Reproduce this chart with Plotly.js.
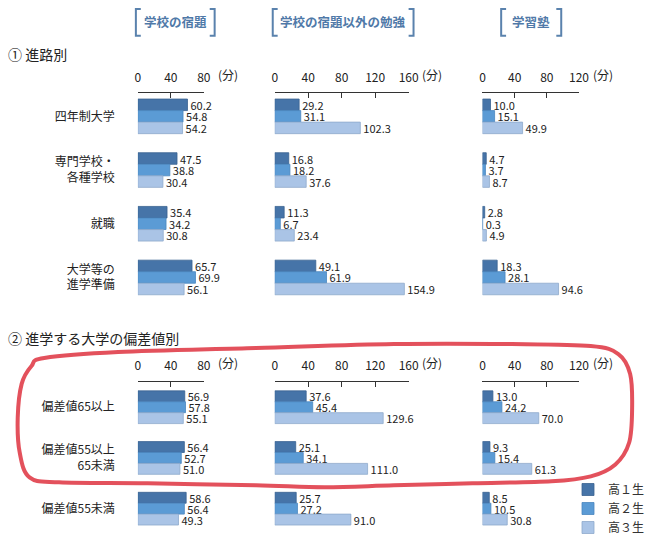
<!DOCTYPE html>
<html>
<head>
<meta charset="utf-8">
<script src="https://cdn.plot.ly/plotly-3.0.1.min.js"></script>
<style>
  html, body { margin: 0; padding: 0; background: #fff; overflow: hidden; }
  #chart { width: 650px; height: 542px; overflow: hidden; }
</style>
</head>
<body>
<div id="chart"></div>
<script>
// categories
const courseCats = ["四年制大学", "専門学校・<br>各種学校", "就職", "大学等の<br>進学準備"];
const devCats = ["偏差値65以上", "偏差値55以上<br>65未満", "偏差値55未満"];
const grades = ["高１生", "高２生", "高３生"];
const panelTitles = ["学校の宿題", "学校の宿題以外の勉強", "学習塾"];
const panelMax = [80, 160, 120];
const panelTicks = [[0, 40, 80], [0, 40, 80, 120, 160], [0, 40, 80, 120]];

// ① 進路別 (minutes)
const courseHomework = [[60.2, 47.5, 35.4, 65.7], [54.8, 38.8, 34.2, 69.9], [54.2, 30.4, 30.8, 56.1]];
const courseOther = [[29.2, 16.8, 11.3, 49.1], [31.1, 18.2, 6.7, 61.9], [102.3, 37.6, 23.4, 154.9]];
const courseCram = [[10.0, 4.7, 2.8, 18.3], [15.1, 3.7, 0.3, 28.1], [49.9, 8.7, 4.9, 94.6]];

// ② 進学する大学の偏差値別 (minutes)
const devHomework = [[56.9, 56.4, 58.6], [57.8, 52.7, 56.4], [55.1, 51.0, 49.3]];
const devOther = [[37.6, 25.1, 25.7], [45.4, 34.1, 27.2], [129.6, 111.0, 91.0]];
const devCram = [[13.0, 9.3, 8.5], [24.2, 15.4, 10.5], [70.0, 61.3, 30.8]];

const W = 650, H = 542;
const px = (x) => x / W;
const py = (y) => 1 - y / H;

const FONT = "Noto Sans CJK JP, Noto Sans, sans-serif";
const colors = ["#4674a8", "#5b9bd5", "#aac4e6"];
const edges = ["#3a6290", "#4a86bf", "#8ea9cc"];
const titleBlue = "#4f79a8";

// panel geometry (pixels)
const colX = [[140, 207], [279, 415], [490, 588]];
const rows = [
  { cats: courseCats, data: [courseHomework, courseOther, courseCram], top: 90, bottom: 306, line: 93, yaxis: "y" },
  { cats: devCats, data: [devHomework, devOther, devCram], top: 384, bottom: 537, line: 383, yaxis: "y2" },
];

const traces = [];
const layout = {
  width: W,
  height: H,
  autosize: false,
  margin: { l: 0, r: 0, t: 0, b: 0 },
  paper_bgcolor: "#fff",
  plot_bgcolor: "rgba(0,0,0,0)",
  font: { family: FONT, size: 12, color: "#222" },
  barmode: "group",
  bargap: 0.355,
  bargroupgap: 0,
  showlegend: true,
  legend: {
    x: px(577),
    y: py(478),
    xanchor: "left",
    yanchor: "top",
    traceorder: "normal",
    font: { size: 12, color: "#333" },
    itemwidth: 30,
    bgcolor: "rgba(255,255,255,0)",
  },
  annotations: [],
  shapes: [],
};

rows.forEach((row, r) => {
  const yName = r === 0 ? "yaxis" : "yaxis2";
  const firstX = r === 0 ? "x" : "x4";
  layout[yName] = {
    domain: [py(row.bottom), py(row.top)],
    anchor: firstX,
    type: "category",
    range: [row.cats.length - 0.5, -0.5],
    showline: false,
    showgrid: false,
    zeroline: false,
    ticks: "",
    ticklabelstandoff: 22,
    tickfont: { size: 12, color: "#222" },
    fixedrange: true,
  };

  colX.forEach((cx, c) => {
    const idx = r * 3 + c + 1;
    const xKey = idx === 1 ? "xaxis" : "xaxis" + idx;
    const xRef = idx === 1 ? "x" : "x" + idx;
    layout[xKey] = {
      domain: [px(cx[0]), px(cx[1])],
      anchor: "free",
      position: py(row.line),
      side: "top",
      range: [0, panelMax[c]],
      tickvals: panelTicks[c],
      ticks: "inside",
      ticklen: 5,
      tickcolor: "#333",
      showline: true,
      linecolor: "#333",
      linewidth: 1,
      showgrid: false,
      zeroline: false,
      ticklabelstandoff: 6,
      tickfont: { size: 12, color: "#222" },
      fixedrange: true,
    };

    // "(分)" unit after last tick
    layout.annotations.push({
      xref: "paper", yref: "paper",
      x: px(cx[1] + 12), y: py(row.line - 18),
      xanchor: "left", yanchor: "middle",
      text: "(分)", showarrow: false,
      font: { size: 12, color: "#222" },
    });

    const series = row.data[c];
    grades.forEach((g, k) => {
      traces.push({
        type: "bar",
        orientation: "h",
        name: g,
        legendgroup: g,
        showlegend: r === 0 && c === 0,
        x: series[k],
        y: row.cats,
        xaxis: xRef,
        yaxis: row.yaxis,
        marker: { color: colors[k], line: { color: edges[k], width: 0.8 } },
        text: series[k].map((v) => v.toFixed(1)),
        textposition: "outside",
        textfont: { size: 11, color: "#222" },
        constraintext: "none",
        cliponaxis: false,
        hoverinfo: "skip",
      });
    });
  });
});

// panel headers with brackets
const headers = [
  { text: panelTitles[0], left: 138, right: 218 },
  { text: panelTitles[1], left: 277, right: 420 },
  { text: panelTitles[2], left: 509, right: 570 },
];
const bracketColor = "#5a82ad";
headers.forEach((h) => {
  const t = 9, b = 36, arm = 5;
  layout.shapes.push({
    type: "path", xref: "paper", yref: "paper",
    path: `M${px(h.left + arm)},${py(t)} L${px(h.left)},${py(t)} L${px(h.left)},${py(b)} L${px(h.left + arm)},${py(b)}`,
    line: { color: bracketColor, width: 2 },
  });
  layout.shapes.push({
    type: "path", xref: "paper", yref: "paper",
    path: `M${px(h.right - arm)},${py(t)} L${px(h.right)},${py(t)} L${px(h.right)},${py(b)} L${px(h.right - arm)},${py(b)}`,
    line: { color: bracketColor, width: 2 },
  });
  layout.annotations.push({
    xref: "paper", yref: "paper",
    x: px((h.left + h.right) / 2), y: py(22),
    xanchor: "center", yanchor: "middle",
    text: "<b>" + h.text + "</b>", showarrow: false,
    font: { size: 12.5, color: titleBlue },
  });
});

// section titles
layout.annotations.push({
  xref: "paper", yref: "paper", x: px(6), y: py(54),
  xanchor: "left", yanchor: "middle", showarrow: false,
  text: "① 進路別", font: { size: 14, color: "#222" },
});
layout.annotations.push({
  xref: "paper", yref: "paper", x: px(6), y: py(340),
  xanchor: "left", yanchor: "middle", showarrow: false,
  text: "② 進学する大学の偏差値別", font: { size: 14, color: "#222" },
});

// hand-drawn red loop round the 偏差値 rows
const loopPts = [
  [45, 360], [120, 354], [260, 350], [400, 346], [520, 346], [600, 348],
  [628, 356], [640, 376], [642, 410], [639, 445], [625, 467], [600, 479],
  [560, 484], [480, 486], [400, 488], [330, 490], [260, 488], [150, 486],
  [60, 485], [30, 480], [20, 455], [18, 420], [22, 386], [32, 368],
];
function smoothPath(pts) {
  const n = pts.length;
  let d = `M${px(pts[0][0])},${py(pts[0][1])}`;
  for (let i = 0; i < n; i++) {
    const p0 = pts[(i - 1 + n) % n], p1 = pts[i], p2 = pts[(i + 1) % n], p3 = pts[(i + 2) % n];
    const c1 = [p1[0] + (p2[0] - p0[0]) / 6, p1[1] + (p2[1] - p0[1]) / 6];
    const c2 = [p2[0] - (p3[0] - p1[0]) / 6, p2[1] - (p3[1] - p1[1]) / 6];
    d += ` C${px(c1[0])},${py(c1[1])} ${px(c2[0])},${py(c2[1])} ${px(p2[0])},${py(p2[1])}`;
  }
  return d + " Z";
}
layout.shapes.push({
  type: "path", xref: "paper", yref: "paper",
  path: smoothPath(loopPts),
  line: { color: "rgba(224,62,74,0.9)", width: 4 },
  fillcolor: "rgba(0,0,0,0)",
  layer: "above",
});

Plotly.newPlot("chart", traces, layout, { displayModeBar: false, staticPlot: true });
</script>
</body>
</html>
